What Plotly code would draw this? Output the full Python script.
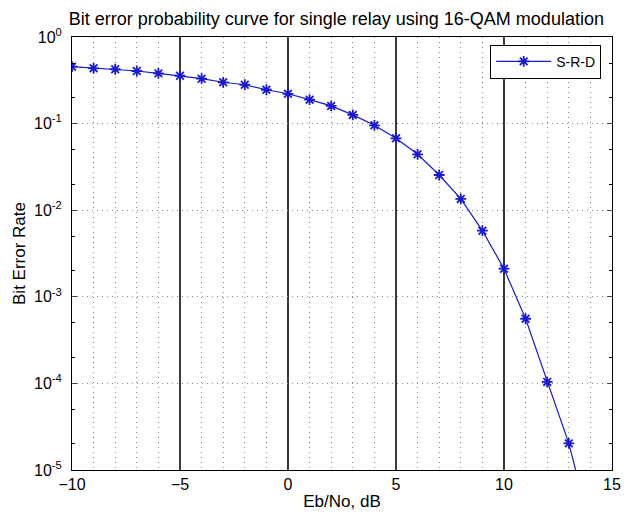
import plotly.graph_objects as go

ebno_db = [-10, -9, -8, -7, -6, -5, -4, -3, -2, -1, 0, 1, 2, 3, 4, 5, 6, 7, 8, 9, 10, 11, 12, 13, 14]
ber = [0.454, 0.435, 0.424, 0.405, 0.38, 0.357, 0.33, 0.30, 0.281, 0.246, 0.221, 0.189, 0.16,
       0.126, 0.0955, 0.0676, 0.0442, 0.0255, 0.0135, 0.0058, 0.00211, 5.58e-4, 1.04e-4, 2.03e-5, 2.2e-6]
series_name = "S-R-D"
ytick_vals = [1, 1e-1, 1e-2, 1e-3, 1e-4, 1e-5]
ytick_text = ["10<sup>0</sup>", "10<sup>-1</sup>", "10<sup>-2</sup>", "10<sup>-3</sup>", "10<sup>-4</sup>", "10<sup>-5</sup>"]
xtick_vals = [-10, -5, 0, 5, 10, 15]

font_family = "Liberation Sans, Arial, sans-serif"

fig = go.Figure()
fig.add_trace(go.Scatter(
    x=ebno_db, y=ber, mode="lines+markers", name=series_name,
    line=dict(color="#1a1acc", width=1.2),
    marker=dict(symbol="asterisk-open", size=9, line=dict(color="#0000ff", width=1.8)),
))

# page body has an 8px default margin; figure is sized/offset to compensate
fig.update_layout(
    width=623, height=511,
    margin=dict(l=62, r=10, t=29, b=49),
    paper_bgcolor="white", plot_bgcolor="white",
    font=dict(family=font_family, color="black", size=14),
    title=dict(text="Bit error probability curve for single relay using 16-QAM modulation",
               x=0.527, xanchor="center", y=0.98, yanchor="middle",
               font=dict(size=18, family=font_family)),
    showlegend=True,
    legend=dict(x=0.98, y=0.982, xanchor="right", yanchor="top",
                bgcolor="white", bordercolor="black", borderwidth=1,
                itemwidth=55,
                font=dict(size=14, family=font_family)),
)

fig.update_xaxes(
    range=[-10, 15], tickvals=xtick_vals, ticks="inside", ticklen=4,
    showline=True, linecolor="black", linewidth=1, mirror="ticks",
    showgrid=True, gridcolor="#3a3a3a", gridwidth=1.5,
    minor=dict(dtick=1, showgrid=True, gridcolor="#8a8a8a", griddash="1px,4px", gridwidth=1),
    zeroline=False,
    tickfont=dict(size=16),
    title=dict(text="Eb/No, dB", font=dict(size=17), standoff=2),
)
fig.update_yaxes(
    type="log", range=[-5, 0], tickvals=ytick_vals, ticktext=ytick_text,
    ticks="inside", ticklen=5, ticklabelstandoff=6,
    showline=True, linecolor="black", linewidth=1, mirror="ticks",
    showgrid=True, gridcolor="#8a8a8a", griddash="1px,4px", gridwidth=1,
    minor=dict(ticks="inside", ticklen=3, tickcolor="black", showgrid=False),
    zeroline=False,
    tickfont=dict(size=16),
    title=dict(text="Bit Error Rate", font=dict(size=17), standoff=4),
)

fig.write_html("out.html", config={"displayModeBar": False})
